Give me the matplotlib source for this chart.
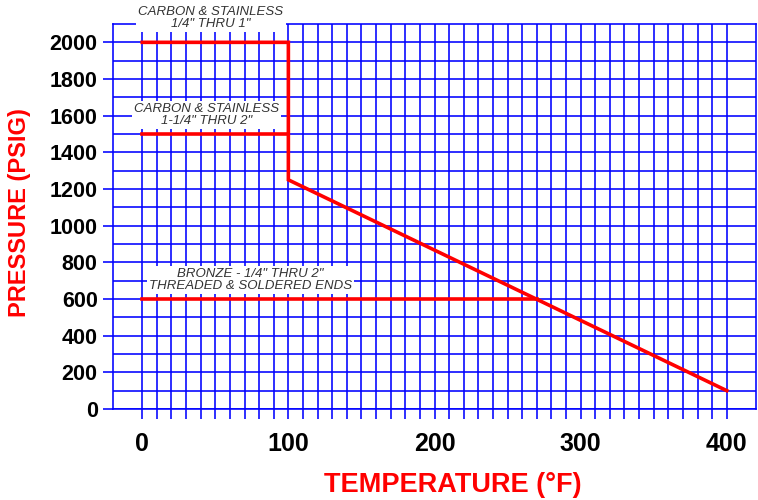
import matplotlib.pyplot as plt
import numpy as np

# working pressure vs temperature
carbon_small_temp = [0, 100, 100, 400]
carbon_small_psi = [2000, 2000, 1250, 100]
carbon_large_temp = [0, 100]
carbon_large_psi = [1500, 1500]
bronze_temp = [0, 270]
bronze_psi = [600, 600]

x_ticks = [0, 100, 200, 300, 400]
y_ticks = [0, 200, 400, 600, 800, 1000, 1200, 1400, 1600, 1800, 2000]

blue = '#0000FF'
red = '#FF0000'
plt.rcParams['font.family'] = ['Liberation Sans', 'DejaVu Sans']

fig = plt.figure(figsize=(7.58, 5.0), dpi=100)
ax = fig.add_axes([113 / 758, 1 - 409 / 500, 643 / 758, 385 / 500])
ax.set_xlim(-20, 420)
ax.set_ylim(0, 2100)

# grid: every 10 F and every 100 psi, only over 0-400 / 0-2000
ax.set_xticks(x_ticks)
ax.set_yticks(y_ticks)
ax.xaxis.set_minor_locator(plt.FixedLocator(np.arange(0, 401, 10)))
ax.yaxis.set_minor_locator(plt.FixedLocator(np.arange(0, 2001, 100)))
ax.grid(which='both', color=blue, linewidth=1.15)
ax.set_axisbelow(True)

ax.tick_params(axis='x', which='both', direction='out', length=7.5, width=1.15,
               color=blue, pad=9, labelsize=18)
ax.tick_params(axis='y', which='major', direction='out', length=7.5, width=1.15,
               color=blue, pad=3.5, labelsize=15.5)
ax.tick_params(axis='y', which='minor', length=0)
for lab in ax.get_xticklabels() + ax.get_yticklabels():
    lab.set_fontweight('bold')
for s in ax.spines.values():
    s.set_color(blue)
    s.set_linewidth(1.15)

ax.plot(carbon_small_temp, carbon_small_psi, color=red, lw=2.6, solid_joinstyle='miter')
ax.plot(carbon_large_temp, carbon_large_psi, color=red, lw=2.6)
ax.plot(bronze_temp, bronze_psi, color=red, lw=2.6)

box = dict(facecolor='white', edgecolor='none', pad=1.5)
txt = dict(ha='center', va='center', fontsize=9.5, style='italic', color='#333333',
           linespacing=1.0, bbox=box, clip_on=False)
ax.text(47, 2135, 'CARBON & STAINLESS\n1/4" THRU 1"', **txt)
ax.text(44, 1605, 'CARBON & STAINLESS\n1-1/4" THRU 2"', **txt)
ax.text(74, 705, 'BRONZE - 1/4" THRU 2"\nTHREADED & SOLDERED ENDS', **txt)

fig.text(452.5 / 758, 1 - 485 / 500, 'TEMPERATURE (°F)', ha='center', va='center',
         color=red, fontsize=19.5, fontweight='bold')
fig.text(20 / 758, 1 - 213 / 500, 'PRESSURE (PSIG)', ha='center', va='center',
         rotation=90, color=red, fontsize=17, fontweight='bold')

fig.savefig('out.png', dpi=100)
